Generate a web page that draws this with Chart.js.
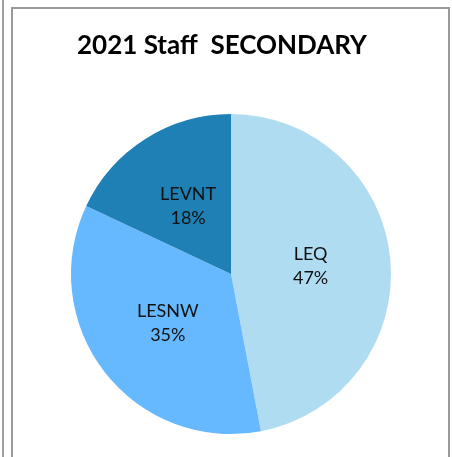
<!DOCTYPE html>
<html>
<head>
<meta charset="utf-8">
<script src="https://cdn.jsdelivr.net/npm/chart.js@4"></script>
<style>
  html, body { margin: 0; padding: 0; background: #fff; }
  #wrap { position: relative; width: 452px; height: 457px; overflow: hidden; }
  #outer { position: absolute; left: 2px; top: -5px; width: 0; height: 470px; border-left: 2px solid #a0a0a0; }
  #frame { position: absolute; left: 11px; top: 7px; width: 435px; height: 470px; border: 2px solid #999; box-sizing: content-box; }
  canvas { position: absolute; left: 0; top: 0; }
</style>
</head>
<body>
<div id="wrap">
  <div id="outer"></div>
  <div id="frame"></div>
  <canvas id="c" width="452" height="457"></canvas>
</div>
<script>
const titleText = "2021 Staff  SECONDARY";
const categories = ["LEQ", "LESNW", "LEVNT"];
const values = [47, 35, 18];
const colors = ["#B0DCF2", "#66B8FF", "#1E80B4"];

const sliceLabels = {
  id: 'sliceLabels',
  afterDatasetsDraw(chart) {
    const ctx = chart.ctx;
    const meta = chart.getDatasetMeta(0);
    const data = chart.data.datasets[0].data;
    const total = data.reduce((a, b) => a + b, 0);
    ctx.save();
    ctx.fillStyle = '#111';
    ctx.font = '18px Lato';
    ctx.textAlign = 'center';
    ctx.textBaseline = 'middle';
    meta.data.forEach((arc, i) => {
      const p = arc.tooltipPosition();
      const pct = Math.round(data[i] / total * 100) + '%';
      ctx.fillText(chart.data.labels[i], p.x, p.y - 12);
      ctx.fillText(pct, p.x, p.y + 12);
    });
    ctx.restore();
  }
};

const titleShift = {
  id: 'titleShift',
  afterLayout(chart) {
    const t = chart.titleBlock;
    if (t) { t.left -= 9; t.right -= 9; }
  }
};

new Chart(document.getElementById('c'), {
  type: 'pie',
  data: {
    labels: categories,
    datasets: [{
      data: values,
      backgroundColor: colors,
      borderWidth: 0
    }]
  },
  options: {
    responsive: false,
    animation: false,
    layout: { padding: { left: 20, right: 10, top: 0, bottom: 23 } },
    plugins: {
      legend: { display: false },
      tooltip: { enabled: false },
      title: {
        display: true,
        text: titleText,
        color: '#000',
        font: { family: 'Lato', size: 26, weight: 'bold', lineHeight: 1.2 },
        padding: { top: 30, bottom: 52.8 }
      }
    }
  },
  plugins: [sliceLabels, titleShift]
});
</script>
</body>
</html>
